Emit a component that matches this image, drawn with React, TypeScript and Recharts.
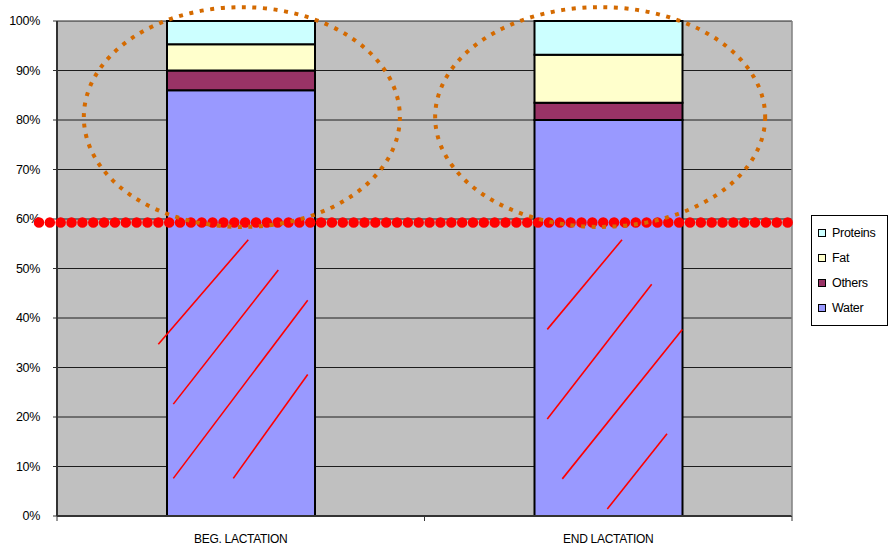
import React from "react";
import { Bar, BarChart, CartesianGrid, Legend, XAxis, YAxis } from "recharts";

const categories = ["BEG. LACTATION", "END LACTATION"];
const water = [86, 80];
const others = [4, 3.5];
const fat = [5.3, 9.7];
const proteins = [4.7, 6.8];
const yTicks = [0, 10, 20, 30, 40, 50, 60, 70, 80, 90, 100];

// stacking order, bottom to top
const series = [
  { key: "water", name: "Water", color: "#9999FF" },
  { key: "others", name: "Others", color: "#993366" },
  { key: "fat", name: "Fat", color: "#FFFFCC" },
  { key: "proteins", name: "Proteins", color: "#CCFFFF" },
];

// annotations, in chart units: x = position along the category axis (0..2), y = percent
const thresholdLine = { from: -0.049, to: 2.003, value: 59.3 };
const ellipses = [
  { cx: 0.503, cy: 80.6, rx: 0.43, ry: 22.2 },
  { cx: 1.478, cy: 80.6, rx: 0.449, ry: 22.2 },
];
const hatchLines = [
  [0.2757, 34.7, 0.5205, 55.8],
  [0.3165, 22.6, 0.6022, 49.7],
  [0.3165, 7.6, 0.6822, 43.6],
  [0.4797, 7.6, 0.6822, 28.6],
  [1.3341, 37.7, 1.5374, 55.8],
  [1.3341, 19.6, 1.6182, 46.8],
  [1.375, 7.5, 1.7015, 37.7],
  [1.4974, 1.4, 1.6599, 16.6],
];

const chartData = categories.map((name, i) => ({
  name,
  water: water[i],
  others: others[i],
  fat: fat[i],
  proteins: proteins[i],
}));

const W = 890;
const H = 550;
const margin = { top: 21, right: 98, left: 7, bottom: 0 };
const yAxisWidth = 50;
const xAxisHeight = 34;
const plot = {
  left: margin.left + yAxisWidth,
  top: margin.top,
  width: W - margin.left - yAxisWidth - margin.right,
  height: H - margin.top - margin.bottom - xAxisHeight,
};
const toX = (u: number) => plot.left + (u * plot.width) / categories.length;
const toY = (v: number) => plot.top + ((100 - v) / 100) * plot.height;

const font = "'Liberation Sans', Arial, sans-serif";

function Annotations() {
  const unitW = plot.width / categories.length;
  return (
    <svg width={W} height={H} style={{ position: "absolute", left: 0, top: 0, pointerEvents: "none" }}>
      <line x1={toX(2)} x2={toX(2)} y1={toY(100)} y2={toY(0)} stroke="#808080" strokeWidth={1.5} />
      {[0, 1, 2].map((u) => (
        <line key={u} x1={toX(u)} x2={toX(u)} y1={toY(0)} y2={toY(0) + 5} stroke="#333" strokeWidth={1} />
      ))}
      {hatchLines.map(([x1, y1, x2, y2], i) => (
        <line key={i} x1={toX(x1)} y1={toY(y1)} x2={toX(x2)} y2={toY(y2)} stroke="#FF0000" strokeWidth={1.6} />
      ))}
      <line
        x1={toX(thresholdLine.from)}
        x2={toX(thresholdLine.to)}
        y1={toY(thresholdLine.value)}
        y2={toY(thresholdLine.value)}
        stroke="#FF0000"
        strokeWidth={10.5}
        strokeLinecap="round"
        strokeDasharray="0 10.85"
      />
      {ellipses.map((e, i) => (
        <ellipse
          key={i}
          cx={toX(e.cx)}
          cy={toY(e.cy)}
          rx={e.rx * unitW}
          ry={(e.ry / 100) * plot.height}
          fill="none"
          stroke="#D46A00"
          strokeWidth={4}
          strokeDasharray="4 6.6"
        />
      ))}
    </svg>
  );
}

function LegendBox() {
  const items = [...series].reverse();
  return (
    <div
      style={{
        border: "1px solid #000",
        background: "#fff",
        width: 77,
        height: 111,
        boxSizing: "border-box",
        paddingTop: 4,
        fontFamily: font,
        fontSize: 12.5,
        color: "#000",
      }}
    >
      {items.map((it) => (
        <div key={it.key} style={{ display: "flex", alignItems: "center", height: 25, paddingLeft: 6 }}>
          <span
            style={{
              width: 6,
              height: 6,
              border: "1.5px solid #000",
              background: it.color,
              marginRight: 6,
              display: "inline-block",
            }}
          />
          <span style={{ letterSpacing: -0.3 }}>{it.name}</span>
        </div>
      ))}
    </div>
  );
}

export default function App() {
  return (
    <div style={{ position: "absolute", left: 0, top: 0, width: W, height: H, background: "#fff" }}>
      <BarChart width={W} height={H} data={chartData} margin={margin}>
        <CartesianGrid vertical={false} fill="#C0C0C0" fillOpacity={1} stroke="#000" strokeOpacity={0.85} />
        <XAxis
          dataKey="name"
          height={xAxisHeight}
          tickLine={false}
          axisLine={{ stroke: "#333", strokeWidth: 2 }}
          tickSize={6}
          tickMargin={12}
          tick={{ fill: "#000", fontSize: 12, fontFamily: font, letterSpacing: -0.3 }}
        />
        <YAxis
          width={yAxisWidth}
          domain={[0, 100]}
          ticks={yTicks}
          interval={0}
          tickFormatter={(v) => `${v}%`}
          tickSize={4}
          tickMargin={13}
          tickLine={{ stroke: "#333" }}
          axisLine={{ stroke: "#333", strokeWidth: 2 }}
          tick={{ fill: "#000", fontSize: 12.5, fontFamily: font, letterSpacing: -0.3 }}
        />
        <Legend
          layout="vertical"
          align="center"
          verticalAlign="middle"
          content={<LegendBox />}
          wrapperStyle={{ left: 811, top: 215, width: 77, height: 111 }}
        />
        {series.map((s) => (
          <Bar
            key={s.key}
            dataKey={s.key}
            name={s.name}
            stackId="a"
            fill={s.color}
            stroke="#000"
            strokeWidth={2}
            barSize={148}
            isAnimationActive={false}
          />
        ))}
      </BarChart>
      <Annotations />
    </div>
  );
}
